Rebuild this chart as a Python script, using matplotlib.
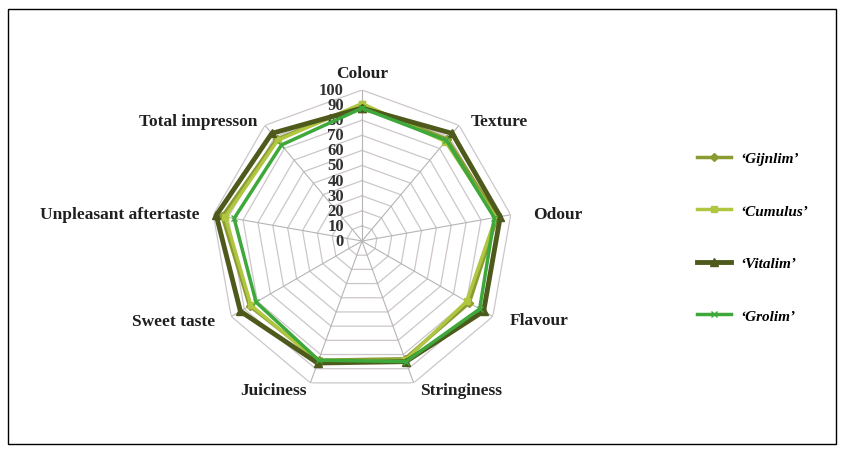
import numpy as np
import matplotlib
matplotlib.use("Agg")
import matplotlib.pyplot as plt
from matplotlib.patches import Rectangle

# sensory attributes, clockwise from the top
attributes = ["Colour", "Texture", "Odour", "Flavour", "Stringiness",
              "Juiciness", "Sweet taste", "Unpleasant aftertaste", "Total impresson"]

gijnlim = [90, 88, 91, 82, 83, 84, 86, 94, 88]
cumulus = [91, 86, 90, 80, 84, 85, 85, 92, 87]
vitalim = [88, 93, 93, 93, 85, 86, 93, 98, 93]
grolim = [88, 87, 89, 90, 85, 84, 81, 86, 83]

series_names = ["\u2018Gijnlim\u2019", "\u2018Cumulus\u2019", "\u2018Vitalim\u2019", "\u2018Grolim\u2019"]
levels = [0, 10, 20, 30, 40, 50, 60, 70, 80, 90, 100]

# label placement (offset pixels from the outer vertex, alignment)
label_offsets = [(0, 17, "center"), (12, 4, "left"), (22, 1, "left"), (17, -4, "left"),
                 (6, -7, "left"), (-4, -7, "right"), (-16, -4, "right"),
                 (-14, 1, "right"), (-8, 4, "right")]

serif = ["Liberation Serif", "DejaVu Serif"]

fig = plt.figure(figsize=(8.42, 4.52), dpi=100)
fig.patches.append(Rectangle((8 / 842, 7 / 452), 828 / 842, 435 / 452,
                             transform=fig.transFigure, fill=False,
                             edgecolor="black", linewidth=1.0))

R = 151
ax = fig.add_axes([(362 - R) / 842, (452 - 242 - R) / 452, 2 * R / 842, 2 * R / 452],
                  projection="polar")
ax.set_theta_zero_location("N")
ax.set_theta_direction(-1)
ax.set_ylim(0, 100)
ax.grid(False)
ax.spines["polar"].set_visible(False)
ax.set_xticks([])
ax.set_yticks([])
ax.patch.set_alpha(0)

n = len(attributes)
angles = np.linspace(0, 2 * np.pi, n, endpoint=False)
closed = np.append(angles, angles[0])

# polygon rings and spokes
for lv in levels[1:]:
    ax.plot(closed, [lv] * (n + 1), color="#cdc6ca", linewidth=0.9, zorder=1)
for a in angles:
    ax.plot([a, a], [0, 100], color="#b5b5b5", linewidth=0.8, zorder=1)

# radial tick labels along the top spoke
for lv in levels:
    ax.annotate(str(lv), xy=(0, lv), xytext=(-18, 0), textcoords="offset pixels",
                ha="right", va="center", fontsize=12, family=serif,
                fontweight="bold", color="#303030")

# attribute labels
for a, name, (dx, dy, ha) in zip(angles, attributes, label_offsets):
    ax.annotate(name, xy=(a, 100), xytext=(dx, dy), textcoords="offset pixels",
                ha=ha, va="center", fontsize=12.5, family=serif, fontweight="bold",
                color="#202020", annotation_clip=False)

styles = [
    (gijnlim, "#8a9b32", "D", 4.5, 2.5),
    (cumulus, "#b0c640", "s", 4.5, 2.5),
    (vitalim, "#4d5a1c", "^", 6, 3.5),
    (grolim, "#3ea83a", "x", 4, 2.5),
]
handles = []
for (vals, col, mk, ms, lw), name in zip(styles, series_names):
    v = list(vals) + [vals[0]]
    h, = ax.plot(closed, v, color=col, marker=mk, markersize=ms, linewidth=lw,
                 label=name, zorder=3, clip_on=False)
    handles.append(h)

fig.legend(handles=handles, loc="center left", bbox_to_anchor=(697 / 842, (452 - 238) / 452),
           frameon=False, borderpad=0, borderaxespad=0, handlelength=2.2,
           handletextpad=0.6, labelspacing=2.55,
           prop={"family": serif, "style": "italic", "weight": "bold", "size": 11})

fig.savefig("out.png", dpi=100)
